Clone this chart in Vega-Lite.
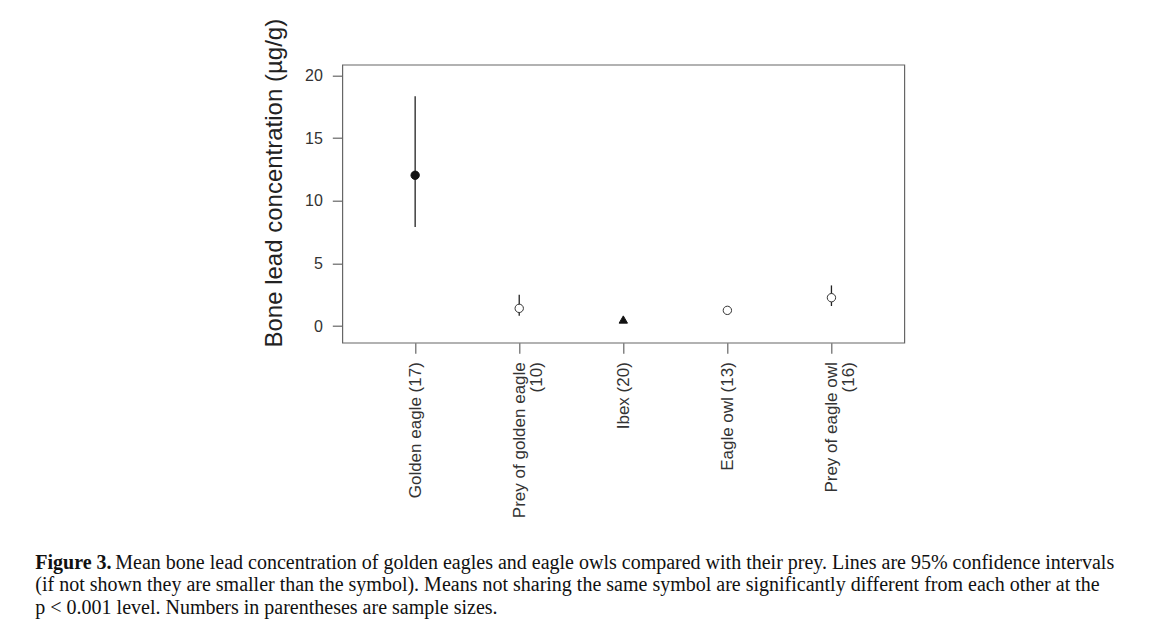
{
  "$schema": "https://vega.github.io/schema/vega-lite/v6.json",
  "width": 562,
  "height": 278,
  "autosize": {"type": "none"},
  "padding": {"left": 342.3, "top": 64.7, "right": 248.7, "bottom": 292.3},
  "background": "white",
  "config": {
    "view": {"stroke": "#666", "strokeWidth": 1.2},
    "font": "Liberation Sans"
  },
  "title": {
    "text": "Figure 3.",
    "subtitle": [
      "\u200b\u00a0\u00a0\u00a0\u00a0\u00a0\u00a0\u00a0\u00a0\u00a0\u00a0\u00a0\u00a0\u00a0\u00a0\u00a0\u00a0Mean bone lead concentration of golden eagles and eagle owls compared with their prey. Lines are 95% confidence intervals",
      "(if not shown they are smaller than the symbol). Means not sharing the same symbol are significantly different from each other at the",
      "p < 0.001 level. Numbers in parentheses are sample sizes."
    ],
    "orient": "bottom",
    "anchor": "start",
    "frame": "group",
    "dx": -307,
    "offset": 35,
    "font": "Liberation Serif",
    "fontSize": 20,
    "fontWeight": "bold",
    "color": "#111",
    "subtitleFont": "Liberation Serif",
    "subtitleFontSize": 20,
    "subtitleFontWeight": "normal",
    "subtitleColor": "#111",
    "subtitleLineHeight": 22.5,
    "subtitlePadding": -20
  },
  "data": {
    "values": [
      {"group": "Golden eagle (17)", "mean": 12.03, "lo": 7.91, "hi": 18.33, "symbol": "filled circle"},
      {"group": "Prey of golden eagle (10)", "mean": 1.41, "lo": 0.82, "hi": 2.5, "symbol": "open circle"},
      {"group": "Ibex (20)", "mean": 0.52, "lo": null, "hi": null, "symbol": "filled triangle"},
      {"group": "Eagle owl (13)", "mean": 1.25, "lo": null, "hi": null, "symbol": "open circle"},
      {"group": "Prey of eagle owl (16)", "mean": 2.26, "lo": 1.6, "hi": 3.24, "symbol": "open circle"}
    ]
  },
  "encoding": {
    "x": {
      "field": "group",
      "type": "nominal",
      "sort": ["Golden eagle (17)", "Prey of golden eagle (10)", "Ibex (20)", "Eagle owl (13)", "Prey of eagle owl (16)"],
      "scale": {"type": "point", "padding": 0.7, "domain": ["Golden eagle (17)", "Prey of golden eagle (10)", "Ibex (20)", "Eagle owl (13)", "Prey of eagle owl (16)"]},
      "axis": {
        "title": null,
        "domain": false,
        "labelAngle": 270,
        "labelAlign": "right",
        "labelBaseline": "middle",
        "labelFontSize": 17,
        "labelLineHeight": 17,
        "labelPadding": 8.5,
        "labelColor": "#333",
        "labelOverlap": false,
        "labelBound": false,
        "tickSize": 10.5,
        "tickColor": "#666",
        "tickWidth": 1.2,
        "labelExpr": "datum.label == 'Prey of golden eagle (10)' ? ['Prey of golden eagle', '(10)'] : datum.label == 'Prey of eagle owl (16)' ? ['Prey of eagle owl', '(16)'] : datum.label"
      }
    }
  },
  "layer": [
    {
      "transform": [{"filter": "datum.lo != null"}],
      "mark": {"type": "rule", "color": "#222", "strokeWidth": 1.3},
      "encoding": {
        "y": {
          "field": "lo",
          "type": "quantitative",
          "scale": {"domain": [-1.33, 20.85], "nice": false, "zero": false},
          "axis": {
            "values": [0, 5, 10, 15, 20],
            "grid": false,
            "domain": false,
            "title": "Bone lead concentration (µg/g)",
            "titleFontSize": 24,
            "titleFontWeight": "normal",
            "titleColor": "#222",
            "titleAngle": 270,
            "titleAlign": "center",
            "titleBaseline": "alphabetic",
            "titleX": -61,
            "titleY": 118,
            "labelAngle": 0,
            "labelAlign": "right",
            "labelBaseline": "middle",
            "labelFontSize": 16,
            "labelColor": "#333",
            "labelPadding": 10,
            "tickSize": 10,
            "tickColor": "#666",
            "tickWidth": 1.2
          }
        },
        "y2": {"field": "hi"}
      }
    },
    {
      "mark": {"type": "point", "strokeWidth": 1, "opacity": 1},
      "encoding": {
        "y": {"field": "mean", "type": "quantitative"},
        "shape": {
          "field": "symbol",
          "type": "nominal",
          "scale": {"domain": ["filled circle", "open circle", "filled triangle"], "range": ["circle", "circle", "triangle-up"]},
          "legend": null
        },
        "fill": {
          "field": "symbol",
          "type": "nominal",
          "scale": {"domain": ["filled circle", "open circle", "filled triangle"], "range": ["#111", "#ffffff", "#111"]},
          "legend": null
        },
        "stroke": {
          "field": "symbol",
          "type": "nominal",
          "scale": {"domain": ["filled circle", "open circle", "filled triangle"], "range": ["#111", "#333", "#111"]},
          "legend": null
        },
        "size": {
          "field": "symbol",
          "type": "nominal",
          "scale": {"domain": ["filled circle", "open circle", "filled triangle"], "range": [70, 70, 85]},
          "legend": null
        }
      }
    }
  ]
}
